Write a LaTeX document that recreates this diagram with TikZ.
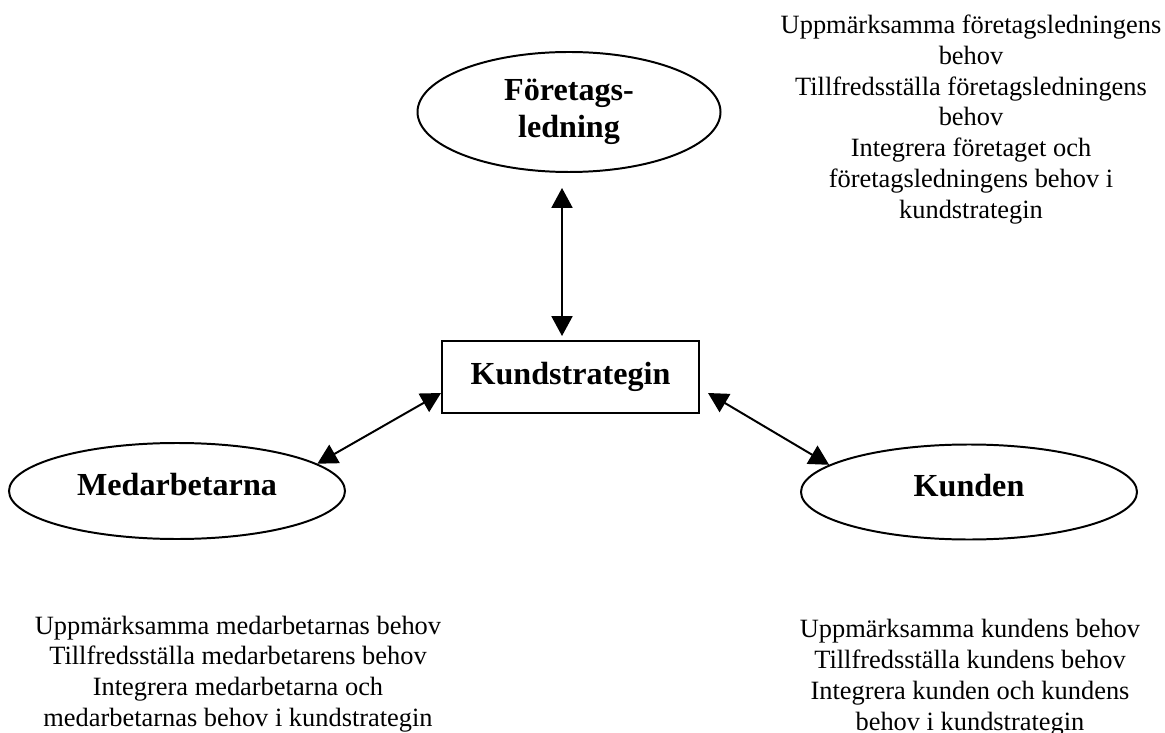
\documentclass[tikz,border=0pt]{standalone}
\usepackage{fontspec}
\setmainfont{Liberation Serif}
\usetikzlibrary{arrows.meta,shapes.geometric}
\def\pxu{0.4545pt}
\tikzset{
  oval/.style={draw, ellipse, line width=0.9pt, inner sep=0pt, font=\fontsize{14.6pt}{16.8pt}\selectfont\bfseries, align=center},
  boxnode/.style={draw, rectangle, line width=0.9pt, inner sep=0pt, font=\fontsize{14.6pt}{16.8pt}\selectfont\bfseries},
  note/.style={inner sep=0pt, align=center, font=\fontsize{12pt}{14pt}\selectfont},
  biarrow/.style={line width=0.9pt, {Triangle[length=9pt,width=9.5pt]}-{Triangle[length=9pt,width=9.5pt]}}
}
\begin{document}
\begin{tikzpicture}[x=0.4545pt, y=-0.4545pt]
\useasboundingbox (0,0) rectangle (1165,733);
\node[oval, minimum width=303*\pxu, minimum height=120*\pxu] (fl) at (569,112) {Företags-\\ledning};
\node[boxnode, minimum width=257*\pxu, minimum height=72*\pxu] (ks) at (570.5,377) {Kundstrategin};
\node[oval, minimum width=336*\pxu, minimum height=96*\pxu, text depth=6pt] (md) at (177,491) {Medarbetarna};
\node[oval, minimum width=336*\pxu, minimum height=95*\pxu, text depth=6pt] (kd) at (969,492) {Kunden};
\node[note] (tfl) at (971,119.5) {Uppmärksamma företagsledningens\\behov\\Tillfredsställa företagsledningens\\behov\\Integrera företaget och\\företagsledningens behov i\\kundstrategin};
\node[note] (tmd) at (238,674) {Uppmärksamma medarbetarnas behov\\Tillfredsställa medarbetarens behov\\Integrera medarbetarna och\\medarbetarnas behov i kundstrategin};
\node[note] (tkd) at (970,677.5) {Uppmärksamma kundens behov\\Tillfredsställa kundens behov\\Integrera kunden och kundens\\behov i kundstrategin};
\draw[biarrow] ([xshift=-7*\pxu, yshift=-15*\pxu]fl.south) -- ([xshift=-8.5*\pxu, yshift=4*\pxu]ks.north);
\draw[biarrow] ([yshift=-16*\pxu]ks.west) -- (md.11);
\draw[biarrow] ([xshift=8*\pxu, yshift=-16*\pxu]ks.east) -- (kd.169);
\end{tikzpicture}
\end{document}
